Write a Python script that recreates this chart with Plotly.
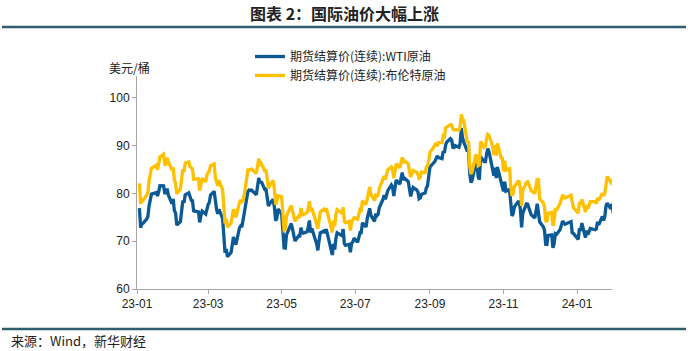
import plotly.graph_objects as go

dates = [
 "2023-01-03","2023-01-04","2023-01-05","2023-01-06","2023-01-09","2023-01-10","2023-01-11","2023-01-12","2023-01-13","2023-01-17","2023-01-18","2023-01-19","2023-01-20","2023-01-23","2023-01-24","2023-01-25","2023-01-26","2023-01-27","2023-01-30","2023-01-31",
 "2023-02-01","2023-02-02","2023-02-03","2023-02-06","2023-02-07","2023-02-08","2023-02-09","2023-02-10","2023-02-13","2023-02-14","2023-02-15","2023-02-16","2023-02-17","2023-02-21","2023-02-22","2023-02-23","2023-02-24","2023-02-27","2023-02-28",
 "2023-03-01","2023-03-02","2023-03-03","2023-03-06","2023-03-07","2023-03-08","2023-03-09","2023-03-10","2023-03-13","2023-03-14","2023-03-15","2023-03-16","2023-03-17","2023-03-20","2023-03-21","2023-03-22","2023-03-23","2023-03-24","2023-03-27","2023-03-28","2023-03-29","2023-03-30","2023-03-31",
 "2023-04-03","2023-04-04","2023-04-05","2023-04-06","2023-04-10","2023-04-11","2023-04-12","2023-04-13","2023-04-14","2023-04-17","2023-04-18","2023-04-19","2023-04-20","2023-04-21","2023-04-24","2023-04-25","2023-04-26","2023-04-27","2023-04-28",
 "2023-05-01","2023-05-02","2023-05-03","2023-05-04","2023-05-05","2023-05-08","2023-05-09","2023-05-10","2023-05-11","2023-05-12","2023-05-15","2023-05-16","2023-05-17","2023-05-18","2023-05-19","2023-05-22","2023-05-23","2023-05-24","2023-05-25","2023-05-26","2023-05-30","2023-05-31",
 "2023-06-01","2023-06-02","2023-06-05","2023-06-06","2023-06-07","2023-06-08","2023-06-09","2023-06-12","2023-06-13","2023-06-14","2023-06-15","2023-06-16","2023-06-20","2023-06-21","2023-06-22","2023-06-23","2023-06-26","2023-06-27","2023-06-28","2023-06-29","2023-06-30",
 "2023-07-03","2023-07-05","2023-07-06","2023-07-07","2023-07-10","2023-07-11","2023-07-12","2023-07-13","2023-07-14","2023-07-17","2023-07-18","2023-07-19","2023-07-20","2023-07-21","2023-07-24","2023-07-25","2023-07-26","2023-07-27","2023-07-28","2023-07-31",
 "2023-08-01","2023-08-02","2023-08-03","2023-08-04","2023-08-07","2023-08-08","2023-08-09","2023-08-10","2023-08-11","2023-08-14","2023-08-15","2023-08-16","2023-08-17","2023-08-18","2023-08-21","2023-08-22","2023-08-23","2023-08-24","2023-08-25","2023-08-28","2023-08-29","2023-08-30","2023-08-31",
 "2023-09-01","2023-09-05","2023-09-06","2023-09-07","2023-09-08","2023-09-11","2023-09-12","2023-09-13","2023-09-14","2023-09-15","2023-09-18","2023-09-19","2023-09-20","2023-09-21","2023-09-22","2023-09-25","2023-09-26","2023-09-27","2023-09-28","2023-09-29",
 "2023-10-02","2023-10-03","2023-10-04","2023-10-05","2023-10-06","2023-10-09","2023-10-10","2023-10-11","2023-10-12","2023-10-13","2023-10-16","2023-10-17","2023-10-18","2023-10-19","2023-10-20","2023-10-23","2023-10-24","2023-10-25","2023-10-26","2023-10-27","2023-10-30","2023-10-31",
 "2023-11-01","2023-11-02","2023-11-03","2023-11-06","2023-11-07","2023-11-08","2023-11-09","2023-11-10","2023-11-13","2023-11-14","2023-11-15","2023-11-16","2023-11-17","2023-11-20","2023-11-21","2023-11-22","2023-11-24","2023-11-27","2023-11-28","2023-11-29","2023-11-30",
 "2023-12-01","2023-12-04","2023-12-05","2023-12-06","2023-12-07","2023-12-08","2023-12-11","2023-12-12","2023-12-13","2023-12-14","2023-12-15","2023-12-18","2023-12-19","2023-12-20","2023-12-21","2023-12-22","2023-12-27","2023-12-28","2023-12-29",
 "2024-01-02","2024-01-03","2024-01-04","2024-01-05","2024-01-08","2024-01-09","2024-01-10","2024-01-11","2024-01-12","2024-01-16","2024-01-17","2024-01-18","2024-01-19","2024-01-22","2024-01-23","2024-01-24","2024-01-25","2024-01-26","2024-01-29","2024-01-30","2024-01-31",
]

wti = [
 76.93,72.84,73.67,73.77,74.63,75.12,77.41,78.39,79.86,80.18,79.48,80.33,81.64,81.62,80.13,80.15,81.01,79.68,77.90,78.87,
 76.41,75.88,73.39,74.11,77.14,78.47,78.06,79.72,80.14,79.06,78.59,78.49,76.34,76.16,73.95,75.39,76.32,75.68,77.05,
 77.69,78.16,79.68,80.46,77.58,76.66,75.72,76.68,74.80,71.33,67.61,68.35,66.74,67.64,69.33,70.90,69.96,69.26,72.81,73.20,72.97,74.37,75.67,
 80.42,80.71,80.61,80.70,79.74,81.53,83.26,82.16,82.52,80.83,80.86,79.16,77.37,77.87,78.76,77.07,74.30,74.76,76.78,
 75.66,71.66,68.60,68.56,71.34,73.16,73.71,72.56,70.87,70.04,71.11,70.86,72.83,71.86,71.69,71.99,72.91,74.34,71.83,72.67,69.46,68.09,
 70.10,71.74,72.15,71.74,72.53,71.29,70.17,67.12,69.42,68.27,70.62,71.78,71.19,72.53,69.51,69.16,69.37,67.70,69.56,69.86,70.64,
 69.79,71.79,71.80,73.86,72.99,74.83,75.75,76.89,75.42,74.15,75.75,75.35,75.63,77.07,78.74,79.63,78.78,80.09,80.58,81.80,
 81.37,79.49,81.55,82.82,81.94,82.92,84.40,82.82,83.19,82.51,80.99,79.38,80.39,81.25,80.72,80.35,78.89,79.05,79.83,80.10,81.16,81.63,83.63,
 85.55,86.69,87.54,87.87,87.51,87.29,88.84,88.52,90.16,90.77,91.48,91.20,89.66,89.63,90.03,89.68,90.39,93.68,91.71,90.79,
 88.82,89.23,84.22,82.31,82.79,86.38,85.97,83.49,82.91,87.69,86.66,86.66,88.32,89.37,88.75,85.49,83.74,85.39,83.21,85.54,82.31,81.02,
 80.44,82.46,80.51,80.82,77.37,75.33,75.74,77.17,78.26,78.26,76.66,72.90,75.89,77.83,77.77,77.10,75.54,74.86,76.41,77.86,75.96,
 74.07,73.04,72.32,69.38,69.34,71.23,71.32,68.61,69.47,71.58,71.43,72.47,73.44,74.22,73.89,73.56,74.11,71.77,71.65,
 70.38,72.70,72.19,73.81,70.77,72.24,71.37,72.02,72.68,72.40,72.56,74.08,73.41,75.19,74.37,75.09,77.36,78.01,76.78,77.82,75.85,
]

brent = [
 82.10,77.84,78.69,78.57,79.65,80.10,82.67,84.03,85.28,85.92,84.98,86.16,87.63,88.19,86.13,86.12,87.47,86.66,84.90,85.46,
 82.84,82.17,79.94,80.99,83.69,85.09,84.50,86.39,86.61,85.58,85.38,85.14,83.00,83.05,80.60,82.21,83.16,82.45,83.89,
 84.31,84.75,85.83,86.18,83.29,82.66,81.59,82.78,80.77,77.45,73.69,74.70,72.97,73.79,75.32,76.69,75.91,74.99,78.12,78.65,78.28,78.60,79.77,
 84.93,84.94,84.99,85.12,84.18,85.61,87.33,86.09,86.31,84.76,84.77,83.12,81.10,81.66,82.73,80.77,77.69,78.37,79.54,
 79.31,75.32,72.33,72.50,75.30,77.01,77.44,76.41,74.98,74.17,75.23,74.91,76.96,75.86,75.58,75.99,76.84,78.36,76.26,76.95,73.54,72.66,
 74.28,76.13,76.71,76.29,76.95,75.96,74.79,71.84,74.29,73.20,75.67,76.61,75.90,77.12,74.14,73.85,74.18,72.26,74.03,74.34,74.90,
 74.65,76.65,76.52,78.47,77.69,79.40,80.11,81.36,79.87,78.50,79.63,79.46,79.64,81.07,82.74,83.64,82.92,84.24,84.99,85.56,
 84.91,83.20,85.14,86.24,85.34,86.17,87.55,86.40,86.81,86.21,84.89,83.45,84.12,84.80,84.46,84.03,83.21,83.36,84.48,84.42,85.49,85.86,86.86,
 88.55,90.04,90.60,89.92,90.65,90.64,92.06,91.88,93.70,93.93,94.43,94.34,93.53,93.30,93.27,93.29,93.96,96.55,95.38,95.31,
 90.71,90.92,85.81,84.07,84.58,88.15,87.65,85.82,86.00,90.89,89.65,89.90,91.50,92.38,92.16,89.83,88.07,90.13,87.93,90.48,87.45,87.41,
 84.63,86.85,84.89,85.18,81.61,79.54,80.01,81.43,82.52,82.47,81.18,77.42,80.61,82.32,82.45,81.96,80.58,79.98,81.68,83.10,82.83,
 78.88,78.03,77.20,74.30,74.05,75.84,76.03,73.24,74.26,76.61,76.55,77.95,79.23,79.70,79.39,79.07,79.65,78.39,77.04,
 75.89,78.25,77.59,78.76,76.12,77.59,76.80,77.41,78.29,78.29,77.88,79.10,78.56,80.06,79.55,80.04,82.43,83.55,82.40,82.87,81.71,
]

series_names = ["期货结算价(连续):WTI原油", "期货结算价(连续):布伦特原油"]
y_ticks = [60, 70, 80, 90, 100]
x_ticks = ["2023-01-01", "2023-03-01", "2023-05-01", "2023-07-01", "2023-09-01", "2023-11-01", "2024-01-01"]
x_tick_labels = ["23-01", "23-03", "23-05", "23-07", "23-09", "23-11", "24-01"]

W, H = 688, 351
L, R, T, B = 137, 76, 76, 62
pw, ph = W - L - R, H - T - B

def px(x):
    return (x - L) / pw

def py(y):
    return (H - B - y) / ph

fig = go.Figure()
fig.add_trace(go.Scatter(x=dates, y=wti, mode="lines", name=series_names[0],
                         line=dict(color="#0B5A96", width=3.3)))
fig.add_trace(go.Scatter(x=dates, y=brent, mode="lines", name=series_names[1],
                         line=dict(color="#FFC000", width=3.3)))

axis_font = dict(family="Liberation Sans, Arial, Noto Sans CJK SC", size=12, color="#222")
fig.update_layout(
    width=W, height=H,
    margin=dict(l=L, r=R, t=T, b=B),
    paper_bgcolor="white", plot_bgcolor="white",
    showlegend=True,
    legend=dict(x=px(250), y=py(42), xanchor="left", yanchor="top",
                font=dict(family="Noto Sans CJK SC", size=12, color="#222"),
                bgcolor="rgba(0,0,0,0)", tracegroupgap=0, itemwidth=30),
    xaxis=dict(type="date", range=["2023-01-01", "2024-01-30"],
               tickmode="array", tickvals=x_ticks, ticktext=x_tick_labels,
               showline=True, linecolor="#A6A6A6", linewidth=1,
               ticks="outside", ticklen=4, tickcolor="#A6A6A6",
               showgrid=False, zeroline=False, tickfont=axis_font),
    yaxis=dict(range=[60, 104.6], tickvals=y_ticks,
               showline=True, linecolor="#A6A6A6", linewidth=1,
               ticks="outside", ticklen=4, tickcolor="#A6A6A6",
               showgrid=False, zeroline=False, tickfont=axis_font),
)

cjk = "Noto Sans CJK SC"
fig.add_annotation(text="<b>图表 2：国际油价大幅上涨</b>", xref="paper", yref="paper",
                   x=px(344), y=py(13), xanchor="center", yanchor="middle",
                   showarrow=False, font=dict(family=cjk, size=16, color="#222"))
fig.add_annotation(text="美元/桶", xref="paper", yref="paper",
                   x=px(129), y=py(68), xanchor="center", yanchor="middle",
                   showarrow=False, font=dict(family=cjk, size=12, color="#222"))
fig.add_annotation(text="来源：Wind，新华财经", xref="paper", yref="paper",
                   x=px(9), y=py(340), xanchor="left", yanchor="middle",
                   showarrow=False, font=dict(family=cjk, size=13, color="#222"))
for yy in (27, 329):
    fig.add_shape(type="line", xref="paper", yref="paper",
                  x0=px(2), x1=px(686), y0=py(yy), y1=py(yy),
                  line=dict(color="#2E5E6E", width=2.5))

fig.write_html("out.html")
